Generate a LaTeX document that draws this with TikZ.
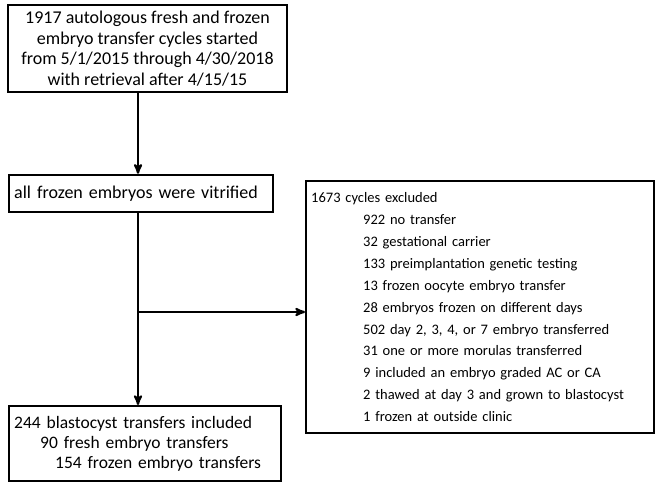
\documentclass[tikz,border=0pt]{standalone}
\usepackage{fontspec}
\setmainfont{Carlito}
\usetikzlibrary{arrows,positioning}
\tikzstyle{box}=[draw=black,line width=2.4pt,inner sep=5pt,font=\fontsize{18}{20.5}\selectfont]
\tikzstyle{arrow}=[line width=2.2pt,->,>=stealth',draw=black]
\begin{document}
\begin{tikzpicture}[x=1pt,y=-1pt]
    \useasboundingbox (0,0) rectangle (657,487);
    \node (start) [box,align=center,minimum width=279pt,minimum height=87pt] at (147.5,48.5)
        {1917 autologous fresh and frozen\\embryo transfer cycles started\\from 5/1/2015 through 4/30/2018\\with retrieval after 4/15/15};
    \node (vit) [box,anchor=west,align=left,text width=254pt,minimum height=37pt] at (8,193.5)
        {all frozen embryos were vitrified};
    \node (excl) [box,align=left,anchor=north west,text width=338pt,minimum height=252pt,font=\fontsize{14.5}{21.9}\selectfont] at (305,180)
        {1673 cycles excluded\\
        \hspace*{52pt}922 no transfer\\
        \hspace*{52pt}32 gestational carrier\\
        \hspace*{52pt}133 preimplantation genetic testing\\
        \hspace*{52pt}13 frozen oocyte embryo transfer\\
        \hspace*{52pt}28 embryos frozen on different days\\
        \hspace*{52pt}502 day 2, 3, 4, or 7 embryo transferred\\
        \hspace*{52pt}31 one or more morulas transferred\\
        \hspace*{52pt}9 included an embryo graded AC or CA\\
        \hspace*{52pt}2 thawed at day 3 and grown to blastocyst\\
        \hspace*{52pt}1 frozen at outside clinic};
    \node (incl) [box,align=left,anchor=north west,text width=262pt,minimum height=75pt,font=\fontsize{17.5}{20}\selectfont] at (8,405)
        {244 blastocyst transfers included\\
        \hspace*{26pt}90 fresh embryo transfers\\
        \hspace*{41pt}154 frozen embryo transfers};
    \coordinate (split) at (138,312);

    \draw[arrow] (start.south -| split) -- (vit.north -| split);
    \draw[arrow] (vit.south -| split) -- (incl.north -| split);
    \draw[arrow] (split) -- (split -| excl.west);
\end{tikzpicture}
\end{document}
